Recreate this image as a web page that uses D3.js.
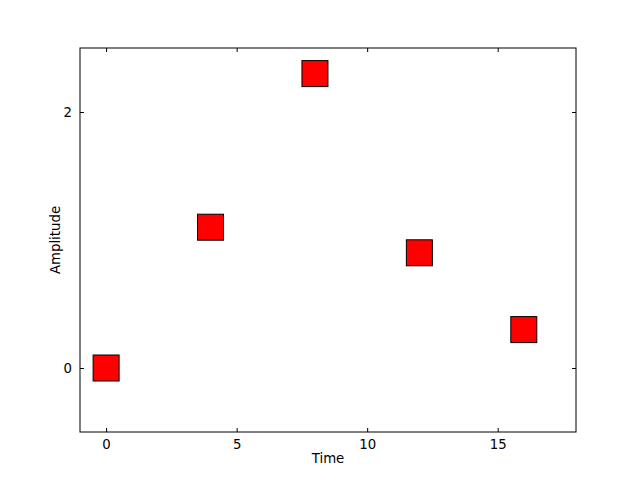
<!DOCTYPE html>
<html><head><meta charset="utf-8">
<script src="https://cdn.jsdelivr.net/npm/d3@7"></script>
<style>body{margin:0;background:#fff}svg{display:block}text{font-family:"DejaVu Sans",sans-serif}</style>
</head><body>
<script>
const times = [0, 4, 8, 12, 16];
const amplitudes = [0, 1.1, 2.3, 0.9, 0.3];
const xTicks = [0, 5, 10, 15];
const yTicks = [0, 2];

const W = 640, H = 480;
const L = 80, R = 576, T = 48, B = 432;
const FS = 13.3;
const svg = d3.select("body").append("svg").attr("width", W).attr("height", H);
const x = d3.scaleLinear().domain([-1, 18]).range([L, R]);
const y = d3.scaleLinear().domain([-0.5, 2.5]).range([B, T]);

const tl = 4;
const s = 26;
svg.append("g").selectAll("rect").data(times).join("rect")
  .attr("x", (d) => x(d) - s/2)
  .attr("y", (d, i) => y(amplitudes[i]) - s/2)
  .attr("width", s).attr("height", s)
  .attr("fill", "#ff0000").attr("stroke", "#000").attr("stroke-width", 1);

const gx = svg.append("g").attr("transform", `translate(0,${B})`)
  .call(d3.axisBottom(x).tickValues(xTicks).tickSize(-tl).tickPadding(8).tickFormat(d3.format("d")));
const gxt = svg.append("g").attr("transform", `translate(0,${T})`)
  .call(d3.axisTop(x).tickValues(xTicks).tickSize(-tl).tickFormat(""));
const gy = svg.append("g").attr("transform", `translate(${L},0)`)
  .call(d3.axisLeft(y).tickValues(yTicks).tickSize(-tl).tickPadding(8).tickFormat(d3.format("d")));
const gyr = svg.append("g").attr("transform", `translate(${R},0)`)
  .call(d3.axisRight(y).tickValues(yTicks).tickSize(-tl).tickFormat(""));
[gx, gxt, gy, gyr].forEach(g => {
  g.select(".domain").remove();
  g.selectAll(".tick line").attr("stroke", "#000").attr("stroke-width", 1);
  g.selectAll("text").attr("font-size", FS).attr("fill", "#000").attr("font-family", "DejaVu Sans");
});
svg.append("rect").attr("x", L).attr("y", T).attr("width", R - L).attr("height", B - T)
  .attr("fill", "none").attr("stroke", "#000").attr("stroke-width", 1);

svg.append("text").attr("x", (L + R) / 2).attr("y", 463).attr("text-anchor", "middle")
  .attr("font-size", FS).text("Time");
svg.append("text").attr("transform", `translate(60,${(T + B) / 2}) rotate(-90)`)
  .attr("text-anchor", "middle").attr("font-size", FS).text("Amplitude");
</script>
</body></html>
